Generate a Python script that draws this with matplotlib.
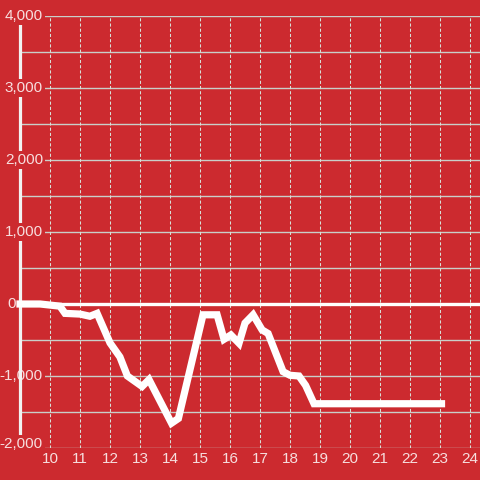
import matplotlib
matplotlib.use("Agg")
import matplotlib.pyplot as plt

# hours (x) and balance (y)
hours = [9.0, 9.67, 10.33, 10.5, 11.0, 11.33, 11.57, 12.0, 12.33, 12.58,
         13.07, 13.3, 14.05, 14.28, 15.1, 15.57, 15.8, 16.03, 16.3, 16.5,
         16.77, 17.07, 17.27, 17.77, 18.0, 18.3, 18.52, 18.8, 23.05]
balance = [0, 0, -30, -130, -140, -170, -130, -540, -735, -1000,
           -1145, -1050, -1655, -1590, -150, -150, -490, -430, -545, -265,
           -150, -360, -410, -940, -990, -1000, -1130, -1385, -1385]

x_ticks = list(range(10, 25))
y_grid = list(range(-2000, 4001, 500))
y_labels = [4000, 3000, 2000, 1000, 0, -1000, -2000]

bg = "#cc2a2f"
txt = "#f7dede"
fs = 11
plt.rcParams["font.family"] = ["Liberation Sans", "DejaVu Sans"]

fig = plt.figure(figsize=(4.8, 4.8), dpi=100, facecolor=bg)
ax = fig.add_axes([20 / 480, 32 / 480, 460 / 480, 432 / 480], facecolor=bg)
ax.set_xlim(9.0, 24.333)
ax.set_ylim(-2000, 4000)

for s in ax.spines.values():
    s.set_visible(False)

# grid
for v in y_grid:
    ax.axhline(v, color="#c9cfc9", lw=1.0, zorder=0.5)
for t in x_ticks:
    ax.axvline(t, color="#d8e0d8", lw=0.75, ls=(0, (3, 2)), zorder=0.5)

# x labels
ax.set_xticks(x_ticks)
ax.set_xticklabels([str(t) for t in x_ticks])
ax.tick_params(axis="x", length=0, pad=3, labelsize=fs, labelcolor=txt)
ax.set_yticks([])

# y labels (red box behind them hides the axis line / grid)
tr = ax.get_yaxis_transform()
for v in y_labels:
    s = "{:,}".format(v)
    if v == 0:
        ax.text(-0.01, v, s, transform=tr, ha="right", va="center",
                fontsize=fs, color=txt, zorder=3, clip_on=False)
        continue
    va = "baseline" if v == y_labels[-1] else "center"
    z = 3 if v == -1000 else 5
    ax.text(0.05, v, s, transform=tr, ha="right", va=va, fontsize=fs,
            color=txt, zorder=z, clip_on=False,
            bbox=dict(facecolor=bg, edgecolor="none", pad=1.5))

# y axis line and zero line
ax.axvline(9.0, color="#f2f2f2", lw=2.3, zorder=4, clip_on=False)
ax.axhline(0, color="white", lw=2.4, zorder=4, clip_on=False)

ax.plot(hours, balance, color="white", lw=5.2, solid_capstyle="projecting",
        solid_joinstyle="miter", zorder=6, clip_on=False)

fig.savefig("out.png", dpi=100, facecolor=bg)
